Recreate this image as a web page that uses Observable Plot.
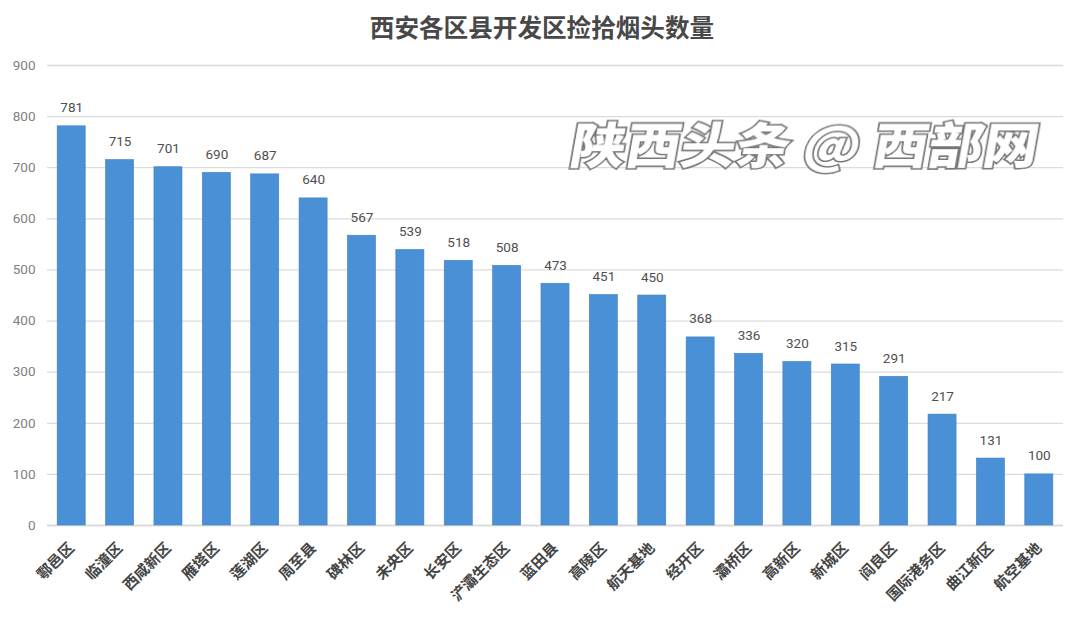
<!DOCTYPE html>
<html><head><meta charset="utf-8">
<script src="https://cdn.jsdelivr.net/npm/d3@7"></script>
<script src="https://cdn.jsdelivr.net/npm/@observablehq/plot@0.6"></script>
<style>
html,body{margin:0;padding:0;background:#fff;width:1080px;height:620px;overflow:hidden;position:relative}
#title{height:56px;text-align:center;font:700 24.6px/52px "Noto Sans CJK SC";color:#484848;padding-left:4px;box-sizing:border-box}
#mark{position:absolute;left:572px;top:111px;font:900 55px/62px "Noto Sans CJK SC";color:#fff;-webkit-text-stroke:3.5px #767676;paint-order:stroke fill;white-space:nowrap;transform:skewX(-10deg) scaleY(.88);filter:blur(.5px)}
svg{display:block}
</style></head><body>
<div id="title">西安各区县开发区捡拾烟头数量</div>
<div id="chart"></div>
<div id="mark">陕西头条 @ 西部网</div>
<script>
const districts = ["鄠邑区","临潼区","西咸新区","雁塔区","莲湖区","周至县","碑林区","未央区","长安区","浐灞生态区","蓝田县","高陵区","航天基地","经开区","灞桥区","高新区","新城区","阎良区","国际港务区","曲江新区","航空基地"];
const counts = [781,715,701,690,687,640,567,539,518,508,473,451,450,368,336,320,315,291,217,131,100];
const yTicks = [0,100,200,300,400,500,600,700,800,900];
const rows = districts.map((d,i)=>({d,c:counts[i]}));
const chart = Plot.plot({
  width:1080,height:564,
  marginTop:9,marginBottom:95,marginLeft:47,marginRight:17,
  style:{background:"transparent",fontFamily:"Roboto, 'Noto Sans CJK SC'"},
  x:{domain:districts,paddingInner:0.42,paddingOuter:0.21,align:0.5,round:false},
  y:{domain:[0,900],ticks:yTicks},
  marks:[
    Plot.gridY(yTicks,{stroke:"#dcdcdc",strokeOpacity:1,strokeWidth:1.3}),
    Plot.ruleY([0],{stroke:"#d9d9d9",strokeWidth:1.3}),
    Plot.barY(rows,{x:"d",y:"c",fill:"#4a90d6",stroke:"#4480bd",strokeWidth:0.6}),
    Plot.text(rows,{x:"d",y:"c",text:d=>String(d.c),fontSize:13.5,fill:"#4f4f4f",lineAnchor:"bottom",dy:-14}),
    Plot.axisY({ticks:yTicks,tickSize:0,tickPadding:12,label:null,fontSize:13.5,color:"#808080"}),
    Plot.axisX({tickSize:0,tickRotate:-45,tickPadding:20,label:null,fontSize:15,fontWeight:700,color:"#444",fontFamily:"'Noto Sans CJK SC'"})
  ]
});
document.getElementById("chart").append(chart);
</script>
</body></html>
